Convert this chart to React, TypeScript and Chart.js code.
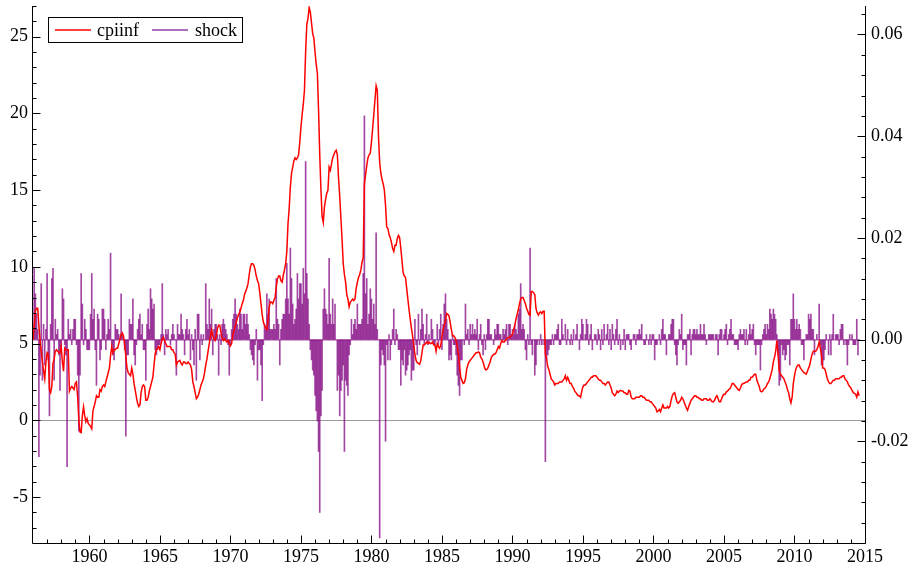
import { useEffect, useRef } from "react";
import { Chart, registerables } from "chart.js";

Chart.register(...registerables);

// Monthly series, January 1956 onwards
const START_YEAR = 1956;

// cpiinf: annual inflation rate, % (left axis)
const cpiinf1950s = [
  5.2, 6.2, 7.1, 7.3, 7.3, 6.2, 5.2, 4.5, 3.8, 3.2, 2.7, 3.8, // 1956
  4.4, 4.3, 2.0, 1.8, 2.2, 3.7, 4.0, 4.5, 4.6, 4.5, 4.4, 4.4, // 1957
  4.8, 3.8, 3.2, 4.7, 4.6, 4.6, 4.6, 1.9, 2.1, 2.2, 2.1, 2.0, // 1958
  2.4, 2.5, 1.5, 0.0, -0.76, -0.8, 0.3, 0.87, 0.3, -0.1, 0.1, -0.2, // 1959
];
const cpiinf1960s = [
  -0.3, -0.4, -0.55, 0.6, 0.9, 1.2, 1.6, 1.5, 1.5, 2.0, 1.9, 2.2, // 1960
  2.3, 2.2, 2.5, 2.8, 3.1, 3.4, 4.2, 4.8, 4.4, 4.6, 4.6, 4.7, // 1961
  4.7, 5.0, 5.3, 5.6, 5.7, 5.5, 4.9, 4.2, 3.4, 3.1, 3.0, 2.9, // 1962
  3.4, 3.0, 2.4, 1.95, 1.5, 1.1, 0.9, 1.0, 1.8, 2.2, 2.3, 2.2, // 1963
  1.3, 1.3, 1.5, 1.9, 2.2, 2.5, 2.8, 3.6, 4.35, 4.6, 4.7, 4.8, // 1964
  4.6, 5.0, 5.3, 5.4, 5.2, 5.0, 4.8, 4.8, 4.8, 4.8, 4.6, 4.6, // 1965
  4.4, 4.3, 3.6, 3.8, 3.85, 3.9, 3.7, 3.6, 3.8, 3.8, 3.7, 3.7, // 1966
  3.8, 3.7, 3.6, 3.3, 2.5, 2.2, 1.8, 1.4, 1.5, 1.7, 2.0, 2.3, // 1967
  2.5, 2.7, 3.1, 3.6, 4.0, 4.5, 5.0, 5.5, 5.9, 5.5, 5.3, 5.2, // 1968
  5.5, 6.0, 6.2, 6.2, 5.7, 5.3, 5.2, 5.3, 5.2, 5.1, 5.2, 5.0, // 1969
];
const cpiinf1970s = [
  4.85, 5.0, 5.5, 5.8, 6.1, 6.4, 6.7, 6.9, 7.05, 7.3, 7.6, 7.8, // 1970
  8.2, 8.4, 8.6, 8.9, 9.5, 10.0, 10.2, 10.2, 10.1, 9.8, 9.4, 9.1, // 1971
  8.9, 8.3, 7.6, 6.9, 6.4, 6.2, 6.0, 5.9, 6.5, 7.4, 7.7, 7.7, // 1972
  7.6, 7.8, 8.0, 8.7, 9.2, 9.4, 9.4, 9.1, 9.0, 9.45, 9.8, 10.2, // 1973
  11.0, 12.8, 13.8, 15.2, 16.1, 16.5, 16.9, 17.1, 17.0, 17.1, 17.3, 18.1, // 1974
  19.1, 19.9, 20.6, 21.5, 24.0, 25.8, 26.2, 26.9, 26.6, 25.9, 25.2, 24.9, // 1975
  24.0, 23.2, 22.6, 20.2, 17.3, 15.1, 13.3, 12.9, 13.9, 14.4, 14.8, 15.0, // 1976
  16.5, 16.3, 16.7, 17.1, 17.3, 17.5, 17.6, 17.3, 15.8, 14.6, 13.2, 11.8, // 1977
  10.2, 9.5, 9.0, 8.2, 7.9, 7.4, 7.7, 7.8, 7.9, 7.8, 7.9, 8.6, // 1978
  9.0, 9.3, 9.5, 9.8, 10.3, 10.6, 15.4, 16.0, 16.6, 17.1, 17.3, 17.4, // 1979
];
const cpiinf1980s = [
  18.1, 19.0, 19.9, 20.9, 21.8, 21.5, 18.5, 16.8, 16.1, 15.7, 15.4, 15.0, // 1980
  14.0, 12.6, 12.5, 12.1, 11.9, 11.6, 11.2, 11.0, 11.4, 11.4, 11.85, 12.05, // 1981
  11.9, 11.2, 10.4, 9.6, 9.4, 9.3, 8.6, 7.9, 7.2, 6.6, 6.0, 5.5, // 1982
  4.9, 4.3, 3.9, 3.75, 3.7, 3.65, 3.9, 4.4, 4.9, 4.9, 5.0, 5.1, // 1983
  5.0, 5.1, 5.0, 5.0, 5.1, 4.9, 4.9, 4.5, 5.0, 4.8, 4.7, 4.9, // 1984
  5.4, 5.9, 6.2, 6.5, 6.95, 6.9, 6.8, 6.4, 5.9, 5.5, 5.5, 5.4, // 1985
  5.2, 4.8, 4.35, 3.5, 2.8, 2.6, 2.4, 2.45, 2.7, 3.3, 3.6, 3.8, // 1986
  3.9, 4.0, 4.1, 4.2, 4.3, 4.4, 4.4, 4.45, 4.4, 4.1, 4.0, 3.8, // 1987
  3.5, 3.3, 3.3, 3.4, 3.6, 3.8, 4.1, 4.2, 4.3, 4.3, 4.4, 4.6, // 1988
  4.8, 4.7, 5.0, 5.2, 5.1, 5.1, 5.2, 5.3, 5.4, 5.4, 5.4, 5.5, // 1989
];
const cpiinf1990s = [
  5.6, 5.9, 6.2, 6.6, 6.9, 7.2, 7.6, 7.9, 8.0, 8.0, 7.8, 7.6, // 1990
  7.3, 7.1, 6.9, 6.85, 8.4, 8.4, 8.3, 8.2, 7.3, 7.0, 6.85, 7.0, // 1991
  7.06, 6.95, 7.1, 7.1, 4.3, 4.0, 3.5, 3.3, 3.0, 2.7, 2.6, 2.5, // 1992
  2.3, 2.4, 2.4, 2.4, 2.5, 2.5, 2.5, 2.6, 2.7, 2.9, 2.6, 2.8, // 1993
  2.6, 2.4, 2.4, 2.2, 2.1, 1.9, 1.8, 1.7, 1.6, 1.6, 1.5, 1.9, // 1994
  2.2, 2.3, 2.3, 2.4, 2.5, 2.6, 2.7, 2.8, 2.8, 2.9, 2.9, 2.9, // 1995
  2.8, 2.7, 2.6, 2.6, 2.5, 2.4, 2.4, 2.3, 2.4, 2.5, 2.5, 2.3, // 1996
  2.1, 1.8, 1.7, 1.6, 1.7, 1.9, 1.8, 1.9, 1.95, 1.9, 1.9, 1.8, // 1997
  1.8, 1.7, 1.7, 1.95, 1.9, 1.5, 1.4, 1.4, 1.4, 1.5, 1.5, 1.5, // 1998
  1.5, 1.6, 1.6, 1.5, 1.5, 1.4, 1.3, 1.3, 1.3, 1.2, 1.2, 1.1, // 1999
];
const cpiinf2000s = [
  1.0, 0.9, 0.8, 0.55, 0.6, 0.7, 0.55, 0.8, 1.0, 0.8, 0.8, 0.8, // 2000
  0.9, 0.8, 0.9, 1.3, 1.6, 1.75, 1.8, 1.5, 1.2, 1.1, 1.2, 1.3, // 2001
  1.5, 1.4, 1.2, 1.0, 0.8, 0.65, 0.9, 1.1, 1.3, 1.4, 1.5, 1.6, // 2002
  1.6, 1.5, 1.5, 1.4, 1.4, 1.3, 1.3, 1.4, 1.4, 1.4, 1.3, 1.3, // 2003
  1.4, 1.3, 1.2, 1.2, 1.3, 1.5, 1.6, 1.4, 1.2, 1.2, 1.4, 1.6, // 2004
  1.7, 1.7, 1.85, 1.9, 2.0, 2.05, 2.2, 2.4, 2.4, 2.3, 2.2, 2.1, // 2005
  2.0, 1.95, 2.1, 2.3, 2.4, 2.4, 2.45, 2.5, 2.5, 2.6, 2.6, 2.8, // 2006
  2.8, 2.9, 3.0, 3.0, 2.6, 2.4, 2.2, 1.9, 1.85, 1.9, 2.05, 2.1, // 2007
  2.2, 2.4, 2.5, 2.7, 3.0, 3.3, 3.8, 4.1, 4.5, 5.2, 4.3, 3.2, // 2008
  3.0, 2.9, 2.8, 2.7, 2.5, 2.3, 2.0, 1.8, 1.4, 1.13, 1.5, 2.4, // 2009
];
const cpiinf2010s = [
  2.9, 3.3, 3.5, 3.6, 3.6, 3.4, 3.3, 3.2, 3.1, 3.05, 3.0, 3.2, // 2010
  3.4, 3.6, 4.0, 4.3, 4.5, 4.5, 4.5, 4.6, 4.8, 5.1, 4.7, 4.2, // 2011
  3.4, 3.4, 3.3, 3.0, 2.7, 2.5, 2.4, 2.4, 2.5, 2.6, 2.6, 2.7, // 2012
  2.7, 2.7, 2.7, 2.8, 2.8, 2.9, 2.9, 2.7, 2.6, 2.5, 2.3, 2.2, // 2013
  2.1, 1.95, 1.8, 1.75, 1.7, 1.5, 1.85, 1.6, // 2014
];

// shock, in thousandths (right axis)
const shock1950s = [
  null, 14, 9, 5, 2, -23, -7, 11, -8, 3, -5, 2, // 1956
  13, -4, -15, 3, 12, 14, -8, 4, 1, 2, -3, -10, // 1957
  -2, 10, 8, -1, -3, -25, 4, 1, 2, -1, 2, 4, // 1958
  4, -1, -7, -18, -7, 13, 7, -1, 4, 2, -2, -2, // 1959
];
const shock1960s = [
  -2, 5, 13, 4, 6, -2, -9, 5, 4, -4, -2, 6, // 1960
  6, 4, -2, 1, 4, 2, 17, -1, -3, -4, 3, 2, // 1961
  2, 1, 0, 9, 1, 0, -2, -19, -3, -3, 4, 3, // 1962
  3, 8, -3, -5, -1, 2, 4, 5, 1, 3, -2, -2, // 1963
  -8, 3, 6, 2, 10, 8, 6, 7, -2, -3, -2, -1, // 1964
  -1, 1, 11, 1, -3, 2, 1, 2, 0, -1, 1, 3, // 1965
  1, 0, -7, 3, 1, 1, 5, 2, 1, -3, 2, 4, // 1966
  1, 2, -4, 1, -2, -5, 2, -8, 5, 5, -4, 1, // 1967
  -1, 1, 0, 11, 3, 2, 8, 3, 6, -3, 2, 3, // 1968
  3, 1, -7, 1, -1, 3, 4, 3, 2, 1, -1, -7, // 1969
];
const shock1970s = [
  -1, 2, 4, 5, 8, 5, 3, 2, 6, 5, 2, 5, // 1970
  5, 3, 5, 3, 1, -2, -3, -4, -5, -1, 2, -8, // 1971
  -2, -2, -5, -12, -1, 3, 2, 9, 5, 8, 2, 2, // 1972
  2, 3, 2, 12, 4, 3, -5, 2, 4, 5, 5, 8, // 1973
  15, 8, 5, 18, 12, 7, 3, 4, 6, 13, 8, 11, // 1974
  11, 7, 14, 9, 35, 13, 8, 3, -2, -4, -6, -7, // 1975
  -11, -14, -16, -22, -34, -15, -10, 6, 10, 6, 5, 3, // 1976
  16, 5, 3, 8, 3, 7, 0, -10, -7, -15, -10, -8, // 1977
  -5, -22, -8, -9, -11, -3, -1, 4, 1, 3, 4, 2, // 1978
  7, 3, 3, 3, 4, 13, 44, 9, 12, 3, 5, 10, // 1979
];
const shock1980s = [
  8, 4, 7, 3, 21, 2, 0, -39, -5, -2, -3, -5, // 1980
  -20, -1, -4, 1, -4, -1, 2, 6, -1, 2, 1, -2, // 1981
  -2, -9, -4, -5, -2, -7, -6, -5, -3, -2, -8, -6, // 1982
  -6, 4, -1, -3, 5, -1, 2, 6, 3, -1, 1, 5, // 1983
  -1, 1, 0, 4, 2, -1, -1, 0, 3, -1, 2, 5, // 1984
  -2, 3, 7, 9, 4, 2, -4, -3, -4, 1, -1, -1, // 1985
  -3, -7, -9, -11, -4, -4, 0, -1, 7, 1, 2, -1, // 1986
  3, 1, 3, 1, 2, 1, 4, -2, 1, 3, -1, -3, // 1987
  1, -2, 1, 4, 4, 1, 1, 0, -1, 2, 1, 3, // 1988
  3, 1, 1, 0, 2, 1, 2, 3, -1, 3, 3, 1, // 1989
];
const shock1990s = [
  2, 1, 3, 2, 1, 5, 6, 11, 2, 3, 2, -2, // 1990
  -4, 1, -1, 18, -1, -3, 0, -7, -5, -1, 0, -1, // 1991
  1, -1, 0, -1, -24, -4, -3, -2, -1, -1, 1, -1, // 1992
  1, 1, 2, 3, -1, -1, 4, 1, 0, 3, -1, 2, // 1993
  0, -1, 1, -1, 2, 0, 1, 3, 0, -2, 1, 4, // 1994
  3, 0, 1, 4, 3, -1, 1, 3, -2, 0, 1, 1, // 1995
  -1, 2, 1, -2, 2, -1, 3, 0, 1, 3, -1, 2, // 1996
  -2, 3, 1, -1, 2, 4, -1, 1, -2, 0, -1, 2, // 1997
  -2, 1, 1, 1, -1, -2, 0, 1, 1, -1, 1, 1, // 1998
  2, 1, 3, 0, -1, -1, 1, 0, -1, 1, -1, 1, // 1999
];
const shock2000s = [
  1, -4, -1, -1, 0, 1, -1, 2, 4, 1, 1, -3, // 2000
  0, 1, 1, 3, 4, 4, -1, -3, -5, -1, 2, 1, // 2001
  5, -2, -1, -1, -5, 1, 1, 2, -3, 1, 2, 2, // 2002
  1, 2, 1, 1, 3, 1, 1, 3, 1, -1, 0, 1, // 2003
  1, 1, 1, 1, 0, 1, 1, -3, 1, 2, 2, 0, // 2004
  1, 2, 3, -1, 1, 2, 4, 1, 1, -1, -1, -1, // 2005
  -2, 1, 2, 1, 1, 2, -1, 2, -1, 1, 3, 1, // 2006
  2, 3, -1, -3, -1, -1, -1, -6, -1, 1, 2, 3, // 2007
  1, 3, 2, 6, 5, 4, 6, 5, 4, 1, -3, -9, // 2008
  -8, -1, -3, -2, -4, -3, -1, -1, -5, 4, 4, 9, // 2009
];
const shock2010s = [
  4, 2, 4, 2, 3, 2, -1, -1, -4, 0, 1, 1, // 2010
  5, 4, 5, 2, 2, -3, 0, 1, 0, 7, -1, -5, // 2011
  -5, -4, -2, 1, 0, -3, 1, -3, 1, 5, 0, 1, // 2012
  1, 1, -1, 2, 3, 3, -1, 0, -1, -5, -1, 1, // 2013
  0, 1, -1, -1, -1, 4, -3, 0, // 2014
];

// Axis ranges and tick labels
const X_MIN = 1956;
const X_MAX = 2015;
const Y_MIN = -8;
const Y_MAX = 27;
const Y1_MIN = -0.04;
const Y1_MAX = 0.0656;
const xMajorTicks = [1960, 1965, 1970, 1975, 1980, 1985, 1990, 1995, 2000, 2005, 2010, 2015];
const yMajorTicks = [-5, 0, 5, 10, 15, 20, 25];
const y1MajorTicks = [-0.02, 0.0, 0.02, 0.04, 0.06];

const cpiinf = [
  ...cpiinf1950s, ...cpiinf1960s, ...cpiinf1970s, ...cpiinf1980s,
  ...cpiinf1990s, ...cpiinf2000s, ...cpiinf2010s,
];
const shock = [
  ...shock1950s, ...shock1960s, ...shock1970s, ...shock1980s,
  ...shock1990s, ...shock2000s, ...shock2010s,
].map((v) => (v === null ? null : v / 1000));
const monthTime = cpiinf.map((_, i) => START_YEAR + i / 12);

const RED = "#ff0000";
const BAR_PURPLE = "rgba(128,0,128,0.72)";
const FONT = '18px "Liberation Serif", "Times New Roman", serif';

const framePlugin = {
  id: "frameAxes",
  beforeDatasetsDraw(chart: any) {
    const { ctx, chartArea: a, scales } = chart;
    ctx.save();
    // zero line of the inflation axis
    const y0 = Math.round(scales.y.getPixelForValue(0)) + 0.5;
    ctx.strokeStyle = "#9a9a9a";
    ctx.lineWidth = 1;
    ctx.beginPath();
    ctx.moveTo(a.left, y0);
    ctx.lineTo(a.right, y0);
    ctx.stroke();
    // baseline of the shock bars across the span of the series
    const firstIdx = shock.findIndex((v) => v !== null);
    const xs = scales.x.getPixelForValue(monthTime[firstIdx]);
    const xe = scales.x.getPixelForValue(monthTime[monthTime.length - 1]);
    const yb = Math.round(scales.y1.getPixelForValue(0)) + 0.5;
    ctx.strokeStyle = "rgba(128,0,128,0.35)";
    ctx.beginPath();
    ctx.moveTo(xs, yb);
    ctx.lineTo(xe, yb);
    ctx.stroke();
    ctx.restore();
  },
  afterDraw(chart: any) {
    const { ctx, chartArea: a, scales } = chart;
    const sx = scales.x, sy = scales.y, sy1 = scales.y1;
    const L = a.left - 0.5, R = a.right + 0.5, B = a.bottom + 0.5;
    ctx.save();
    ctx.strokeStyle = "#000";
    ctx.lineWidth = 1;
    ctx.beginPath();
    ctx.moveTo(L, a.top);
    ctx.lineTo(L, B);
    ctx.lineTo(R, B);
    ctx.lineTo(R, a.top);
    ctx.stroke();

    const MAJOR = 8, MINOR = 4;
    ctx.beginPath();
    // bottom axis: yearly ticks, inward
    for (let yr = X_MIN + 1; yr <= X_MAX; yr++) {
      const px = Math.round(sx.getPixelForValue(yr)) + 0.5;
      const len = yr % 5 === 0 ? MAJOR : MINOR;
      ctx.moveTo(px, B);
      ctx.lineTo(px, B - len);
    }
    // left axis: unit ticks
    for (let v = Y_MIN + 1; v <= Y_MAX; v++) {
      const py = Math.round(sy.getPixelForValue(v)) + 0.5;
      const len = v % 5 === 0 ? MAJOR : MINOR;
      ctx.moveTo(L, py);
      ctx.lineTo(L + len, py);
    }
    // right axis: ticks every 0.004
    for (let k = -9; k <= 16; k++) {
      const py = Math.round(sy1.getPixelForValue(k * 0.004)) + 0.5;
      const len = k % 5 === 0 ? MAJOR : MINOR;
      ctx.moveTo(R, py);
      ctx.lineTo(R - len, py);
    }
    ctx.stroke();

    ctx.fillStyle = "#000";
    ctx.font = FONT;
    ctx.textAlign = "center";
    ctx.textBaseline = "alphabetic";
    for (const yr of xMajorTicks) {
      ctx.fillText(String(yr), sx.getPixelForValue(yr), 562);
    }
    ctx.textAlign = "right";
    ctx.textBaseline = "middle";
    for (const v of yMajorTicks) {
      ctx.fillText(String(v), 28, sy.getPixelForValue(v));
    }
    ctx.textAlign = "left";
    for (const v of y1MajorTicks) {
      ctx.fillText(v.toFixed(2), 871, sy1.getPixelForValue(v));
    }

    // legend box
    ctx.fillStyle = "#fff";
    ctx.fillRect(48.5, 17.5, 194, 25);
    ctx.strokeStyle = "#000";
    ctx.lineWidth = 1;
    ctx.strokeRect(48.5, 17.5, 194, 25);
    ctx.lineWidth = 1.5;
    ctx.strokeStyle = RED;
    ctx.beginPath();
    ctx.moveTo(55, 30);
    ctx.lineTo(91, 30);
    ctx.stroke();
    ctx.strokeStyle = "rgb(150,60,170)";
    ctx.beginPath();
    ctx.moveTo(152, 30);
    ctx.lineTo(188, 30);
    ctx.stroke();
    ctx.fillStyle = "#000";
    ctx.textAlign = "left";
    ctx.textBaseline = "alphabetic";
    ctx.fillText("cpiinf", 97, 36);
    ctx.fillText("shock", 195, 36);
    ctx.restore();
  },
};

export default function App() {
  const canvasRef = useRef<HTMLCanvasElement | null>(null);

  useEffect(() => {
    const canvas = canvasRef.current;
    if (!canvas) return;
    const chart = new Chart(canvas, {
      type: "bar",
      data: {
        datasets: [
          {
            type: "line",
            label: "cpiinf",
            data: monthTime.map((t, i) => ({ x: t, y: cpiinf[i] })),
            yAxisID: "y",
            borderColor: RED,
            borderWidth: 1.5,
            pointRadius: 0,
            tension: 0,
            order: 0,
          } as any,
          {
            type: "bar",
            label: "shock",
            data: monthTime.map((t, i) => ({ x: t, y: shock[i] })),
            yAxisID: "y1",
            backgroundColor: BAR_PURPLE,
            borderWidth: 0,
            barThickness: 1,
            order: 1,
          } as any,
        ],
      },
      options: {
        responsive: false,
        animation: false,
        devicePixelRatio: 1,
        events: [],
        layout: { padding: { left: 33, right: 47, top: 6, bottom: 24 } },
        plugins: { legend: { display: false }, tooltip: { enabled: false } },
        scales: {
          x: {
            type: "linear",
            min: X_MIN,
            max: X_MAX,
            offset: false,
            display: false,
            grid: { offset: false },
          },
          y: { type: "linear", min: Y_MIN, max: Y_MAX, display: false },
          y1: { type: "linear", min: Y1_MIN, max: Y1_MAX, display: false },
        },
      } as any,
      plugins: [framePlugin],
    });
    return () => chart.destroy();
  }, []);

  return (
    <div style={{ position: "absolute", left: 0, top: 0, width: 912, height: 567, background: "#fff" }}>
      <canvas ref={canvasRef} width={912} height={567} style={{ display: "block" }} />
    </div>
  );
}
